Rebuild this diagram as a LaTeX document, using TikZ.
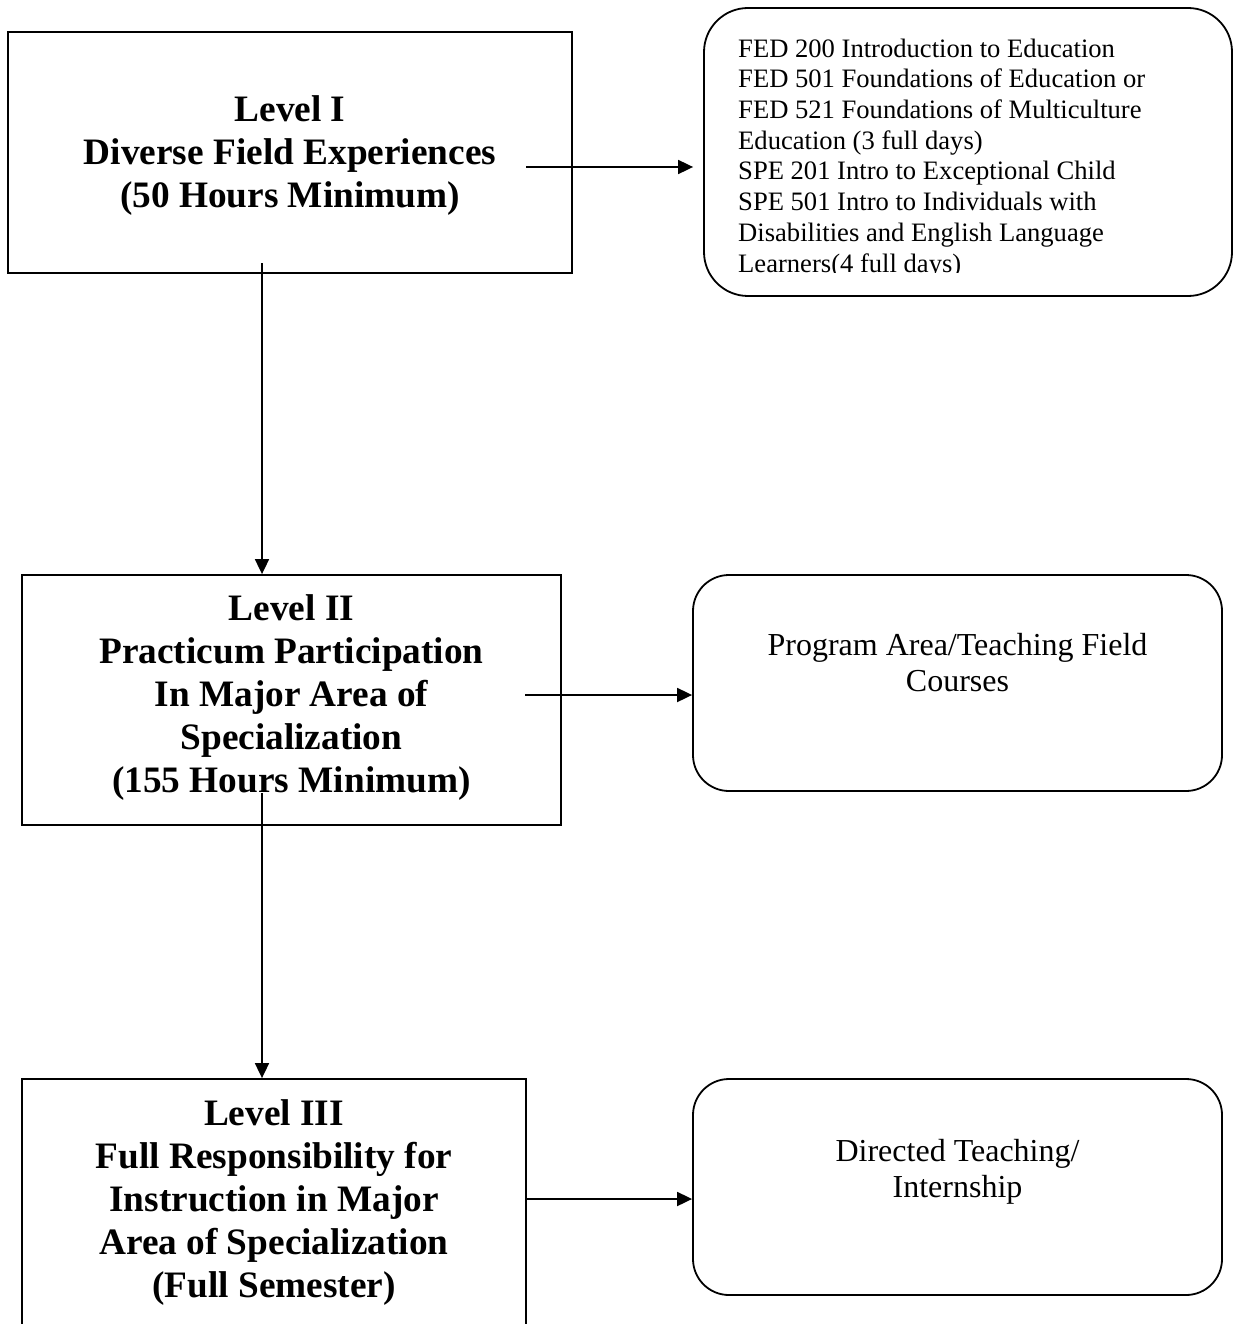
\documentclass[tikz,border=0pt]{standalone}
\usepackage{fontspec}
\setmainfont{Liberation Serif}
\usetikzlibrary{arrows.meta, calc}

\tikzset{
	lvlbox/.style={draw, line width=1.8pt, inner sep=0pt},
	crsbox/.style={draw, line width=1.8pt, rounded corners=36pt, inner sep=0pt},
	lvltext/.style={align=center, font=\fontsize{37.3}{43}\selectfont\bfseries},
	crstext/.style={align=center, font=\fontsize{32}{36}\selectfont},
	flow/.style={line width=1.8pt, -{Triangle[length=15pt, width=14pt]}}
}

\begin{document}
\begin{tikzpicture}[x=1pt, y=-1pt]
		\useasboundingbox (0,0) rectangle (1233,1324);
		% levels
		\node[lvlbox, minimum width=564pt, minimum height=241pt] (lvl1) at (290,152.5) {};
		\node[lvltext] (lvl1t) at (290,156) {Level I\\Diverse Field Experiences\\(50 Hours Minimum)};
		\node[lvlbox, minimum width=539pt, minimum height=250pt] (lvl2) at (291.5,700) {};
		\node[lvltext] (lvl2t) at (291.5,698) {Level II\\Practicum Participation\\In Major Area of\\Specialization\\(155 Hours Minimum)};
		\node[lvlbox, minimum width=504pt, minimum height=272pt] (lvl3) at (274,1215) {};
		\node[lvltext] (lvl3t) at (274,1203) {Level III\\Full Responsibility for\\Instruction in Major\\Area of Specialization\\(Full Semester)};
		% courses
		\node[crsbox, rounded corners=44pt, minimum width=528pt, minimum height=288pt] (crs1) at (968,152) {};
		\begin{scope}
			\clip (700,0) rectangle (1233,272);
			\node[align=left, anchor=north west, inner sep=0pt, font=\fontsize{26.6}{30.7}\selectfont] (crs1t) at (738,38.5)
				{FED 200 Introduction to Education\\FED 501 Foundations of Education or\\FED 521 Foundations of Multiculture\\Education (3 full days)\\SPE 201 Intro to Exceptional Child\\SPE 501 Intro to Individuals with\\Disabilities and English Language\\Learners(4 full days)};
		\end{scope}
		\node[crsbox, minimum width=529pt, minimum height=216pt] (crs2) at (957.5,683) {};
		\node[crstext] (crs2t) at (957.5,663) {Program Area/Teaching Field\\Courses};
		\node[crsbox, minimum width=529pt, minimum height=216pt] (crs3) at (957.5,1187) {};
		\node[crstext] (crs3t) at (957.5,1172) {Directed Teaching/\\Internship};
		% arrows
		\coordinate (d1) at (262,263);
		\coordinate (d2) at (262,793);
		\coordinate (r1) at (526,167);
		\coordinate (r2) at (525,695);
		\coordinate (r3) at (526,1199);
		\draw[flow] (d1) -- (d1 |- lvl2.north);
		\draw[flow] (d2) -- (d2 |- lvl3.north);
		\draw[flow, shorten >=10pt] (r1) -- (r1 -| crs1.west);
		\draw[flow] (r2) -- (r2 -| crs2.west);
		\draw[flow] (r3) -- (r3 -| crs3.west);
	\end{tikzpicture}
\end{document}
